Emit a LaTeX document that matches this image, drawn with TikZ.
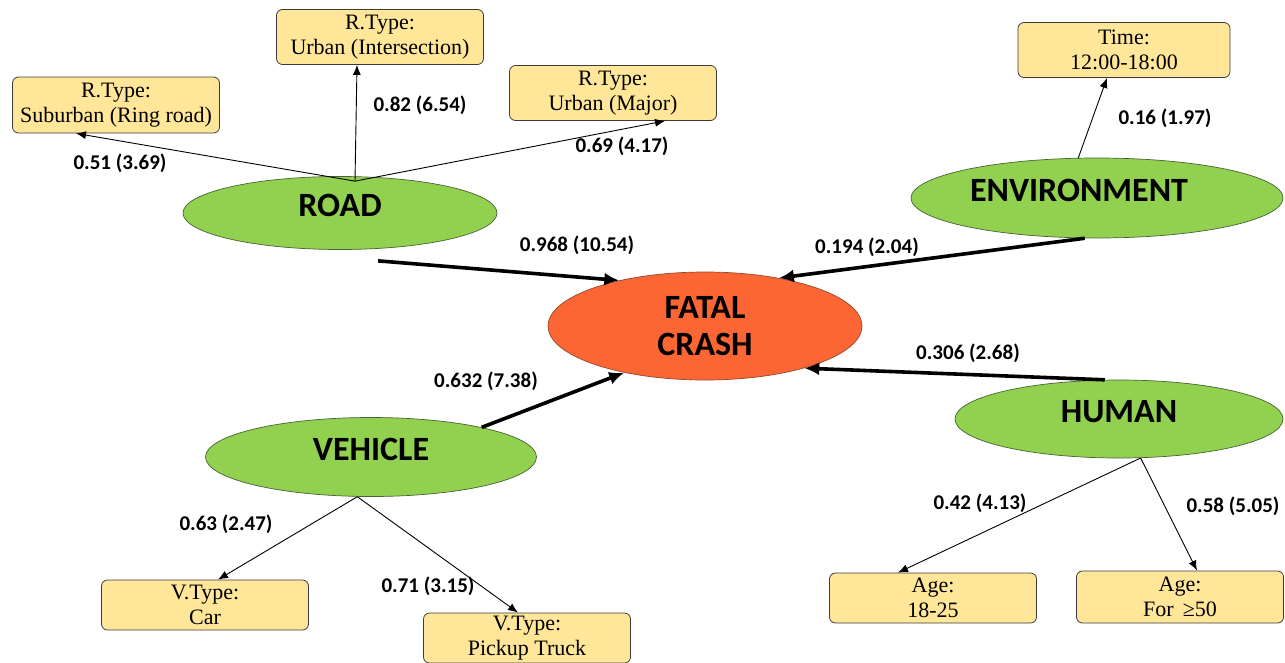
\documentclass[tikz,border=0pt]{standalone}
\usepackage{fontspec}
\setmainfont{Liberation Serif}
\newfontfamily\labelfont{Carlito}
\usepackage{tikz}
\usetikzlibrary{arrows.meta,positioning,calc,shapes.geometric}
\definecolor{clrFactorfill}{RGB}{146,208,80}
\definecolor{clrFactoredge}{RGB}{72,98,52}
\definecolor{clrCrashfill}{RGB}{252,102,52}
\definecolor{clrCrashedge}{RGB}{150,72,40}
\definecolor{clrBoxfill}{RGB}{255,230,153}
\definecolor{clrBoxedge}{RGB}{60,60,60}
\tikzset{
  thinflow/.style={-{Latex[length=10pt,width=8pt]}, line width=0.9pt},
  thickflow/.style={-{Latex[length=15pt,width=13pt]}, line width=3.6pt},
  factornode/.style={ellipse, draw=clrFactoredge, fill=clrFactorfill, line width=0.7pt, inner sep=0pt, text depth=16pt, font=\labelfont\bfseries\fontsize{34}{40}\selectfont},
  crashnode/.style={ellipse, draw=clrCrashedge, fill=clrCrashfill, line width=0.7pt, inner sep=0pt, align=center, font=\labelfont\bfseries\fontsize{34}{37}\selectfont},
  valuenode/.style={draw=clrBoxedge, fill=clrBoxfill, rounded corners=6pt, align=center, line width=0.8pt, inner sep=2pt, minimum width=207pt, font=\fontsize{22}{25}\selectfont},
  weightlabel/.style={inner sep=0pt, font=\labelfont\bfseries\fontsize{21}{24}\selectfont}
}

\begin{document}
\begin{tikzpicture}[x=1pt, y=-1pt]
\useasboundingbox (0,0) rectangle (1285,662);

\node[factornode, minimum width=314pt, minimum height=73pt] (road) at (340,213) {ROAD};
\node[factornode, minimum width=372pt, minimum height=80pt] (env) at (1097,198) {ENVIRONMENT\kern36pt};
\node[crashnode, minimum width=314pt, minimum height=108pt] (crash) at (705,326) {FATAL\\CRASH};
\node[factornode, minimum width=331pt, minimum height=79pt] (vehicle) at (371,457) {VEHICLE};
\node[factornode, minimum width=328pt, minimum height=78pt] (human) at (1119,419) {HUMAN};

\node[valuenode, minimum height=56pt] (sub) at (116,105) {R.Type:\\Suburban (Ring road)};
\node[valuenode, minimum height=55pt] (inter) at (380,37) {R.Type:\\Urban (Intersection)};
\node[valuenode, minimum height=55pt] (major) at (613,93) {R.Type:\\Urban (Major)};
\node[valuenode, minimum height=55pt, minimum width=212pt] (time) at (1124,50) {Time:\\12:00-18:00};
\node[valuenode, minimum height=50pt] (car) at (205,605) {V.Type:\\Car};
\node[valuenode, minimum height=50pt] (pickup) at (527,638) {V.Type:\\Pickup Truck};
\node[valuenode, minimum height=50pt] (young) at (933,598) {Age:\\18-25};
\node[valuenode, minimum height=52pt] (old) at (1180,597) {Age:\\For \,≥50};

\node[weightlabel] (wsub) at (120,163) {0.51 (3.69)};
\node[weightlabel] (winter) at (420,105) {0.82 (6.54)};
\node[weightlabel] (wmajor) at (622,146) {0.69 (4.17)};
\node[weightlabel] (wroad) at (577,245) {0.968 (10.54)};
\node[weightlabel] (wtime) at (1165,118) {0.16 (1.97)};
\node[weightlabel] (wenv) at (867,247) {0.194 (2.04)};
\node[weightlabel] (whuman) at (968,353) {0.306 (2.68)};
\node[weightlabel] (wvehicle) at (486,381) {0.632 (7.38)};
\node[weightlabel] (wcar) at (226,524) {0.63 (2.47)};
\node[weightlabel] (wpickup) at (428,586) {0.71 (3.15)};
\node[weightlabel] (wyoung) at (980,503) {0.42 (4.13)};
\node[weightlabel] (wold) at (1233,506) {0.58 (5.05)};

\draw[thinflow] ($(road.north)+(15,5)$) -- ($(sub.south)+(-40,0)$);
\draw[thinflow] ($(road.north)+(15,5)$) -- ($(inter.south)+(-23,0)$);
\draw[thinflow] ($(road.north)+(15,5)$) -- ($(major.south)+(52,0)$);
\draw[thinflow] (env.115) -- ($(time.south)+(-17,0)$);
\draw[thinflow] (vehicle.251) -- ($(car.north)+(13,0)$);
\draw[thinflow] (vehicle.251) -- ($(pickup.north)+(-9,0)$);
\draw[thinflow] (human.299) -- ($(young.north)+(-35,0)$);
\draw[thinflow] (human.299) -- ($(old.north)+(17,0)$);

\draw[thickflow] ($(road.south)+(38,11)$) -- (crash.152);
\draw[thickflow] (env.253) -- (crash.33);
\draw[thickflow] (human.110) -- (crash.-23);
\draw[thickflow] (vehicle.15) -- (crash.210);

\end{tikzpicture}
\end{document}
